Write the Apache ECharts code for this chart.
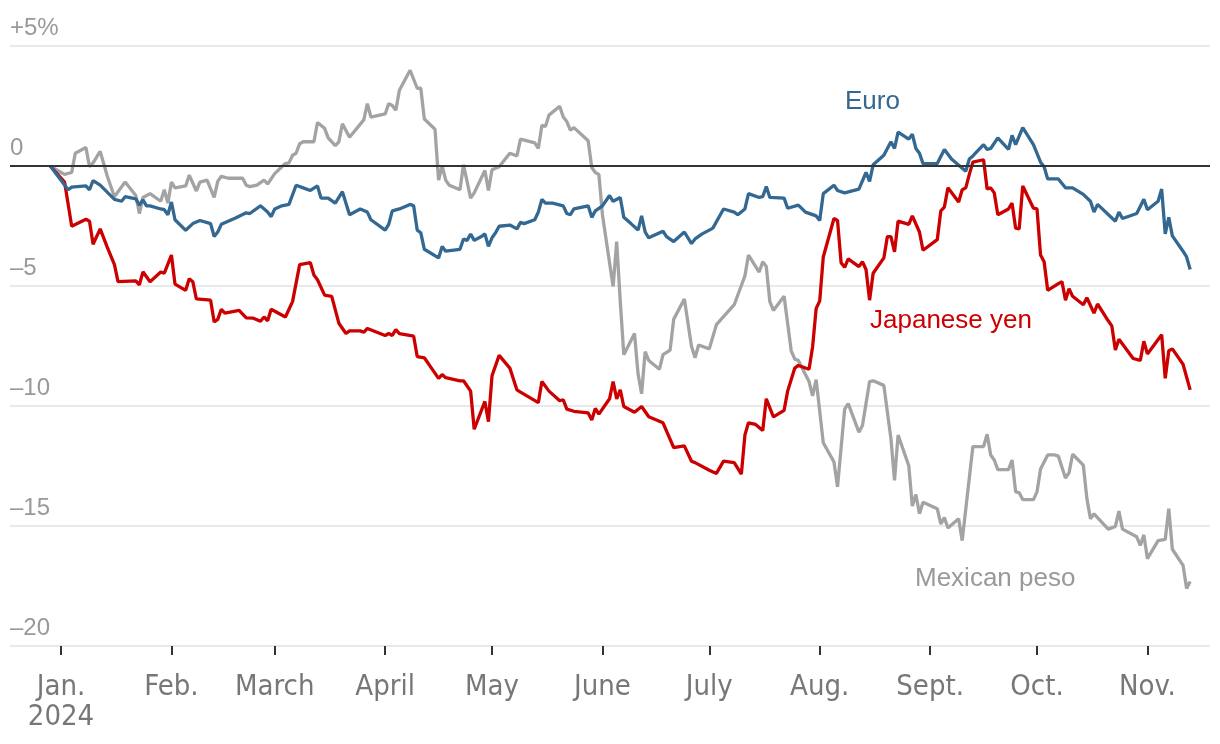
<!DOCTYPE html>
<html>
<head>
<meta charset="utf-8">
<script src="https://cdn.jsdelivr.net/npm/echarts@6/dist/echarts.min.js"></script>
<style>
  html, body { margin: 0; padding: 0; background: #fff; }
  #chart { width: 1220px; height: 744px; }
</style>
</head>
<body>
<div id="chart"></div>
<script>
// Values: [days since 2024-01-01, % change vs. the dollar since the start of 2024]
const euro = [[-3,0],[2,-0.99],[3,-0.88],[7,-0.83],[8,-0.99],[9,-0.61],[11,-0.80],[15,-1.39],[17,-1.47],[18,-1.28],[21,-1.37],[22,-1.63],[23,-1.41],[24,-1.66],[25,-1.66],[28,-1.79],[29,-1.82],[30,-2.03],[31,-1.50],[32,-2.24],[35,-2.68],[37,-2.40],[39,-2.27],[42,-2.40],[43,-2.94],[44,-2.75],[45,-2.43],[49,-2.17],[52,-1.95],[53,-1.98],[56,-1.66],[58,-1.92],[59,-2.11],[60,-1.79],[62,-1.66],[64,-1.60],[66,-0.80],[68,-0.91],[70,-1.02],[72,-0.83],[73,-1.34],[75,-1.34],[77,-1.55],[79,-1.07],[81,-2.03],[84,-1.79],[86,-1.92],[87,-2.24],[91,-2.67],[92,-2.43],[93,-1.87],[95,-1.79],[98,-1.60],[99,-1.66],[100,-2.67],[101,-2.78],[102,-3.47],[106,-3.83],[107,-3.35],[108,-3.55],[112,-3.47],[113,-3.04],[114,-3.10],[115,-2.83],[116,-3.10],[118,-2.94],[119,-2.83],[120,-3.35],[121,-2.99],[122,-2.78],[123,-2.51],[126,-2.46],[128,-2.62],[129,-2.35],[130,-2.40],[133,-2.24],[134,-1.92],[135,-1.39],[136,-1.55],[138,-1.55],[141,-1.66],[142,-1.98],[143,-2.03],[144,-1.79],[148,-1.66],[149,-2.14],[150,-1.87],[152,-1.66],[154,-1.23],[155,-1.47],[157,-1.31],[158,-2.14],[160,-2.40],[162,-2.67],[163,-2.08],[164,-2.75],[165,-2.99],[169,-2.72],[170,-2.94],[172,-3.15],[175,-2.75],[177,-3.23],[178,-3.04],[180,-2.83],[182,-2.67],[183,-2.59],[186,-1.79],[189,-1.92],[190,-2.03],[192,-1.79],[193,-1.15],[196,-1.31],[197,-1.28],[198,-0.86],[199,-1.31],[203,-1.34],[204,-1.76],[207,-1.63],[209,-1.92],[212,-2.08],[213,-2.27],[214,-1.15],[217,-0.80],[218,-1.02],[220,-1.12],[224,-0.96],[226,-0.27],[227,-0.64],[228,0.05],[231,0.45],[233,1.01],[234,0.73],[235,1.41],[238,1.12],[239,1.33],[240,0.73],[241,0.53],[242,0.10],[246,0.10],[248,0.69],[250,0.29],[254,-0.22],[255,0.29],[256,0.42],[259,0.89],[260,0.69],[261,0.73],[263,1.17],[266,0.69],[267,1.28],[268,0.89],[270,1.60],[273,0.89],[275,0.16],[276,-0.03],[277,-0.54],[280,-0.54],[282,-0.91],[284,-0.91],[287,-1.18],[289,-1.47],[290,-1.92],[291,-1.60],[296,-2.30],[297,-1.92],[298,-2.19],[302,-1.98],[304,-1.39],[305,-1.82],[308,-1.47],[309,-0.96],[310,-2.83],[311,-2.14],[312,-2.91],[315,-3.55],[316,-3.79],[317,-4.31]];

const yen = [[-3,0],[1,-0.67],[3,-2.51],[7,-2.22],[8,-2.30],[9,-3.26],[11,-2.62],[13,-3.39],[15,-4.11],[16,-4.82],[21,-4.79],[22,-4.95],[23,-4.41],[25,-4.82],[28,-4.42],[29,-4.46],[31,-3.71],[32,-4.92],[35,-5.18],[36,-4.70],[37,-4.82],[38,-5.54],[42,-5.59],[43,-6.50],[44,-6.39],[45,-5.97],[46,-6.13],[50,-6.02],[52,-6.33],[54,-6.34],[56,-6.47],[57,-6.29],[58,-6.45],[59,-5.97],[63,-6.29],[65,-5.65],[67,-4.11],[70,-4.03],[71,-4.54],[72,-4.74],[74,-5.38],[76,-5.43],[78,-6.55],[80,-6.98],[81,-6.87],[84,-6.87],[85,-6.93],[86,-6.77],[91,-7.06],[92,-6.98],[93,-7.06],[94,-6.82],[95,-6.98],[99,-7.09],[100,-7.94],[102,-7.99],[104,-8.42],[106,-8.85],[107,-8.69],[108,-8.82],[112,-8.95],[113,-8.95],[115,-9.38],[116,-10.97],[119,-9.81],[120,-10.65],[121,-8.74],[123,-7.89],[126,-8.42],[128,-9.33],[129,-9.42],[134,-9.86],[135,-8.98],[137,-9.38],[140,-9.78],[141,-9.74],[142,-10.13],[144,-10.22],[148,-10.29],[149,-10.58],[150,-10.10],[151,-10.34],[154,-9.70],[155,-8.98],[156,-9.70],[157,-9.33],[158,-10.02],[161,-10.26],[163,-10.02],[165,-10.45],[169,-10.70],[172,-11.73],[175,-11.66],[177,-12.30],[178,-12.36],[182,-12.68],[184,-12.81],[186,-12.30],[189,-12.36],[191,-12.84],[192,-11.21],[193,-10.70],[195,-10.77],[197,-11.02],[198,-9.70],[200,-10.45],[203,-10.18],[204,-9.38],[206,-8.42],[207,-8.31],[210,-8.47],[211,-7.54],[212,-5.94],[213,-5.62],[214,-3.79],[217,-2.19],[218,-2.27],[219,-4.03],[220,-4.22],[221,-3.87],[224,-4.19],[225,-3.99],[226,-4.31],[227,-5.59],[228,-4.47],[231,-3.83],[232,-2.94],[233,-2.94],[234,-3.58],[235,-2.30],[238,-2.43],[239,-2.08],[241,-2.75],[242,-3.51],[246,-3.07],[247,-1.87],[248,-1.71],[249,-0.91],[252,-1.50],[253,-0.99],[254,-0.91],[255,-0.35],[256,0.16],[259,0.26],[260,-0.96],[261,-0.91],[262,-1.12],[263,-2.03],[266,-1.79],[267,-1.55],[268,-2.59],[269,-2.62],[270,-0.83],[273,-1.76],[274,-1.79],[275,-3.71],[276,-3.99],[277,-5.18],[280,-4.90],[281,-4.82],[282,-5.59],[283,-5.11],[284,-5.43],[287,-5.78],[288,-5.49],[290,-6.13],[291,-5.75],[294,-6.45],[295,-6.66],[296,-7.67],[297,-7.22],[301,-8.02],[303,-8.10],[304,-7.30],[305,-7.83],[309,-7.03],[310,-8.85],[311,-7.70],[312,-7.62],[315,-8.26],[317,-9.33]];

const peso = [[-3,0],[0,-0.27],[1,-0.35],[3,-0.27],[4,0.53],[7,0.77],[8,-0.03],[9,0.13],[11,0.61],[13,-0.43],[15,-1.28],[18,-0.67],[21,-1.23],[22,-1.98],[23,-1.31],[25,-1.15],[28,-1.47],[29,-0.99],[30,-1.55],[31,-0.67],[32,-0.91],[35,-0.83],[36,-0.38],[38,-1.04],[39,-0.67],[41,-0.59],[43,-1.31],[44,-0.64],[45,-0.43],[47,-0.51],[51,-0.51],[52,-0.80],[53,-0.86],[55,-0.80],[57,-0.59],[58,-0.75],[60,-0.32],[62,-0.03],[63,0.10],[64,0.13],[65,0.45],[66,0.53],[67,0.93],[68,1.01],[71,1.01],[72,1.81],[74,1.57],[75,1.17],[77,0.85],[78,1.01],[79,1.76],[81,1.20],[85,1.92],[86,2.60],[87,2.04],[91,2.17],[92,2.60],[93,2.52],[94,2.32],[95,3.16],[98,3.99],[100,3.24],[101,3.24],[102,1.96],[105,1.53],[106,-0.59],[107,0],[108,-0.59],[109,-0.80],[112,-0.99],[113,0.05],[115,-1.34],[116,-1.12],[119,-0.19],[120,-1.02],[121,-0.16],[123,-0.03],[126,0.53],[128,0.42],[129,1.12],[133,0.96],[134,0.73],[135,1.69],[136,1.65],[137,2.12],[140,2.49],[141,2.04],[142,1.85],[143,1.49],[144,1.60],[148,1.05],[149,-0.06],[150,-0.27],[151,-0.35],[152,-2.03],[154,-4.03],[155,-5.02],[156,-3.15],[157,-5.62],[158,-7.86],[161,-6.98],[162,-8.66],[163,-9.49],[164,-7.73],[165,-8.10],[168,-8.47],[169,-7.86],[171,-7.67],[172,-6.39],[175,-5.54],[177,-7.51],[178,-7.99],[179,-7.46],[182,-7.62],[184,-6.61],[189,-5.78],[191,-4.98],[192,-4.58],[193,-3.71],[196,-4.42],[197,-3.99],[198,-4.19],[199,-5.65],[200,-6.02],[203,-5.43],[205,-7.70],[206,-8.05],[207,-8.10],[209,-8.69],[210,-8.98],[211,-9.58],[212,-8.90],[214,-11.53],[217,-12.33],[218,-13.37],[220,-10.13],[221,-9.90],[224,-11.09],[225,-10.81],[227,-8.98],[228,-8.95],[231,-9.14],[233,-11.37],[234,-13.10],[235,-11.21],[238,-12.49],[239,-14.17],[240,-13.69],[241,-14.49],[242,-14.01],[246,-14.28],[247,-14.92],[248,-14.65],[249,-15.08],[252,-14.70],[253,-15.61],[256,-11.69],[259,-11.69],[260,-11.18],[261,-12.04],[262,-12.25],[263,-12.65],[266,-12.65],[267,-12.25],[268,-13.58],[269,-13.61],[270,-13.90],[273,-13.90],[274,-13.58],[275,-12.62],[277,-12.04],[279,-12.04],[280,-12.09],[282,-13.00],[283,-12.78],[284,-12.01],[287,-12.46],[288,-13.85],[289,-14.70],[290,-14.49],[294,-15.13],[296,-15.02],[297,-14.38],[298,-15.13],[302,-15.45],[303,-15.81],[304,-15.37],[305,-16.36],[308,-15.61],[310,-15.56],[311,-14.28],[312,-15.97],[315,-16.64],[316,-17.60],[317,-17.31]];

const monthTicks = ['2024-01-01','2024-02-01','2024-03-01','2024-04-01','2024-05-01','2024-06-01','2024-07-01','2024-08-01','2024-09-01','2024-10-01','2024-11-01'];
const monthLabels = ['Jan.\n2024','Feb.','March','April','May','June','July','Aug.','Sept.','Oct.','Nov.'];
const yTicks = [-20, -15, -10, -5, 0, 5];
const yTickLabels = ['\u201320', '\u201315', '\u201310', '\u20135', '0', '+5%'];
const seriesNames = ['Mexican peso', 'Japanese yen', 'Euro'];

const DAY = 86400000;
const base = Date.UTC(2024, 0, 1);
const dayOf = s => { const p = s.split('-').map(Number); return Math.round((Date.UTC(p[0], p[1] - 1, p[2]) - base) / DAY); };
const tickDays = monthTicks.map(dayOf);

const COLORS = { peso: '#a3a3a3', yen: '#cc0000', euro: '#326891' };
const NARROW = '"Liberation Sans Narrow", "DejaVu Sans Condensed", "Liberation Sans", sans-serif';
const SANS = '"Liberation Sans", Arial, sans-serif';

const chart = echarts.init(document.getElementById('chart'), null, { renderer: 'canvas' });

const option = {
  animation: false,
  backgroundColor: '#ffffff',
  grid: { left: 10, right: 10, top: 46, bottom: 98 },
  xAxis: {
    type: 'value',
    min: -14.32,
    max: 322.57,
    axisLine: { show: false, onZero: false },
    splitLine: { show: false },
    axisTick: {
      show: true,
      customValues: tickDays,
      length: 9,
      lineStyle: { color: '#333333', width: 2 }
    },
    axisLabel: {
      customValues: tickDays,
      hideOverlap: false,
      showMinLabel: true,
      showMaxLabel: true,
      margin: 26,
      color: '#777777',
      fontFamily: NARROW,
      fontSize: 29,
      lineHeight: 30,
      align: 'center',
      formatter: function (value) {
        const i = tickDays.indexOf(Math.round(value));
        return i >= 0 ? monthLabels[i] : '';
      }
    }
  },
  yAxis: {
    type: 'value',
    min: -20,
    max: 5,
    interval: 5,
    axisLine: { show: false },
    axisTick: { show: false },
    splitLine: { show: true, lineStyle: { color: '#e2e2e2', width: 1.5 } },
    axisLabel: {
      inside: true,
      align: 'left',
      verticalAlign: 'bottom',
      margin: 0,
      padding: [0, 0, 6, 0],
      color: '#999999',
      fontFamily: SANS,
      fontSize: 24,
      formatter: function (v) {
        const i = yTicks.indexOf(v);
        return i >= 0 ? yTickLabels[i] : '';
      }
    }
  },
  series: [
    {
      name: seriesNames[0], type: 'line', data: peso, showSymbol: false,
      lineStyle: { color: COLORS.peso, width: 3.3 }, itemStyle: { color: COLORS.peso },
      z: 2,
      markLine: {
        silent: true, symbol: 'none', animation: false,
        label: { show: false },
        lineStyle: { color: '#333333', width: 1.8, type: 'solid' },
        data: [{ yAxis: 0 }]
      }
    },
    {
      name: seriesNames[1], type: 'line', data: yen, showSymbol: false,
      lineStyle: { color: COLORS.yen, width: 3.3 }, itemStyle: { color: COLORS.yen }, z: 3
    },
    {
      name: seriesNames[2], type: 'line', data: euro, showSymbol: false,
      lineStyle: { color: COLORS.euro, width: 3.3 }, itemStyle: { color: COLORS.euro }, z: 4
    }
  ],
  graphic: [
    { type: 'text', left: 845, top: 89, style: { text: seriesNames[2], fill: COLORS.euro, font: '26px ' + SANS } },
    { type: 'text', left: 870, top: 308, style: { text: seriesNames[1], fill: COLORS.yen, font: '26px ' + SANS } },
    { type: 'text', left: 915, top: 566, style: { text: seriesNames[0], fill: '#999999', font: '26px ' + SANS } }
  ]
};

chart.setOption(option);
</script>
</body>
</html>
